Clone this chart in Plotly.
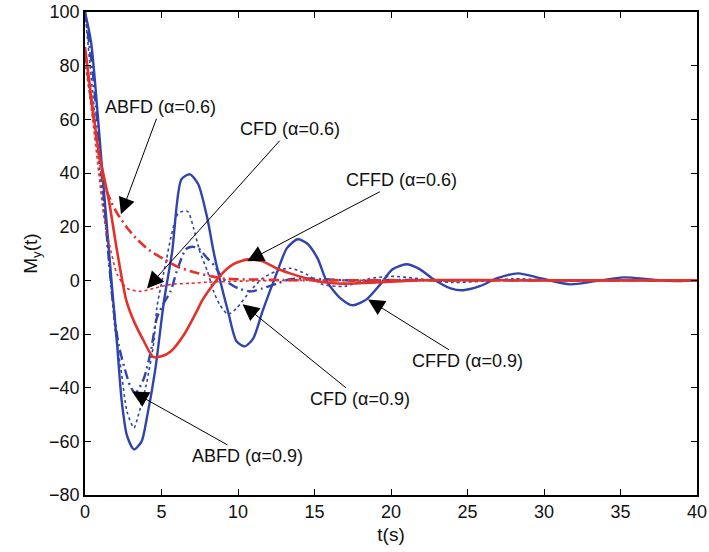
import plotly.graph_objects as go

# ---- data ----
# CFFD (alpha=0.9): blue solid
t_cffd09 = [0, 0.4, 0.8, 1.05, 1.57, 1.83, 2.1, 2.4, 2.75, 3.2, 3.7, 4.05, 4.6, 5.16, 5.7, 6.3, 6.86,
            7.4, 8.0, 8.4, 8.8, 9.35, 9.9, 10.45, 11.0, 11.6, 12.5, 13.2, 13.9, 14.5, 15.2, 15.8, 16.7,
            17.5, 18.4, 19.3, 20.1, 21.0, 21.9, 22.7, 23.9, 24.7, 25.8, 26.9, 28.3, 29.9, 31.7, 33.4,
            35.2, 37.0, 38.7, 40]
y_cffd09 = [100, 88.7, 64, 46, 10.8, -6.7, -24, -45, -58, -63, -60, -51, -33, -7.8, 10.8, 37.6, 39.5,
            35.8, 23, 10.8, 0.7, -11.6, -22.7, -24.6, -21.6, -11.6, 2.2, 12, 15.3, 13.8, 8.2, -0.4, -6.7,
            -9.3, -7.1, -1.5, 4.1, 6.0, 4.1, 0.7, -3, -3.7, -2.2, 0.7, 2.6, 0.6, -1.5, -0.3,
            1.1, 0.3, -0.3, 0]

# ABFD (alpha=0.9): blue dash-dot
t_abfd09 = [0, 0.5, 1.0, 1.25, 1.76, 2.2, 2.7, 3.0, 3.3, 3.85, 4.3, 4.7, 5.2, 5.6, 6.0, 6.6, 7.0, 7.4,
            8.0, 8.5, 9.0, 10.0, 10.9, 11.6, 12.6, 13.4, 14.4, 16, 18, 20, 25, 30, 35, 40]
y_abfd09 = [100, 78, 45, 29, -5, -24, -35, -40, -42, -36.5, -26.5, -14, -8, -4, 3.4, 11.6, 12.5, 12,
            8.2, 5.2, 0.7, -3, -4.1, -3, -1.1, 0.4, 0.7, 0.3, -0.2, 0.1, 0, 0, 0, 0]

# CFD (alpha=0.9): blue dotted
t_cfd09 = [0, 0.5, 0.9, 1.4, 1.7, 2.0, 2.35, 2.75, 3.2, 3.5, 4.0, 4.5, 4.7, 5.3, 5.6, 6.1, 6.7, 7.1,
           7.5, 8.0, 8.4, 8.8, 9.35, 9.9, 10.8, 11.6, 12.5, 13.4, 14.5, 15.5, 17, 18.5, 20, 22, 24, 26,
           28, 30, 32, 35, 38, 40]
y_cfd09 = [100, 70, 45, 17, -1.5, -20, -33, -49, -55, -50, -39, -23, -10, 7, 15.6, 25, 25.7, 19.4,
           10.8, 3.4, -4, -9, -12.7, -10.4, -4, 0.7, 3.4, 4.5, 2.2, -1.5, -2.2, 0.5, 1.5, 0.5, -0.8, -0.3,
           0.6, 0.2, -0.3, 0.2, 0, 0]

# CFFD (alpha=0.6): red solid
t_cffd06 = [0, 0.5, 0.9, 1.57, 2.1, 2.7, 3.2, 3.85, 4.45, 5.0, 5.6, 6.5, 7.3, 7.7, 8.8, 9.7, 10.65,
            11.6, 12.5, 13.4, 14.5, 15.5, 16.5, 17.5, 19, 21, 23, 26, 30, 35, 40]
y_cffd06 = [87, 64, 48, 29.4, 10.8, -7.5, -15.3, -22.7, -28.5, -28.3, -26.5, -20, -11.6, -7.1, 1.5, 6, 7.8,
            7.1, 4.5, 2.6, 0.7, -0.6, -1.2, -1.2, -0.8, -0.2, 0.1, 0.1, 0, 0, 0]

# ABFD (alpha=0.6): red dash-dot
t_abfd06 = [0, 0.5, 0.9, 1.25, 1.7, 2.1, 2.7, 3.4, 4.3, 5.2, 6.0, 6.9, 8.0, 9.0, 10.0, 11.2, 13, 15,
            20, 25, 30, 35, 40]
y_abfd06 = [85, 63, 47, 36, 29.4, 25, 20, 15.3, 10.8, 7.8, 5.2, 3.4, 1.8, 0.7, 0.4, 0.3, 0.1, 0,
            0, 0, 0, 0, 0]

# CFD (alpha=0.6): red dotted
t_cfd06 = [0, 0.5, 0.9, 1.25, 1.7, 2.1, 2.75, 3.65, 4.5, 5.6, 6.9, 8.0, 9.5, 11, 14, 20, 30, 40]
y_cfd06 = [82, 60, 40, 23, 10.8, 2.2, -3, -4.1, -3, -1.5, -1.1, -0.7, -0.4, -0.2, 0, 0, 0, 0]

# annotations: label, arrow tip (t, y), text centre (t, y)
ann_labels = ["ABFD (α=0.6)", "CFD (α=0.6)", "CFFD (α=0.6)",
              "CFFD (α=0.9)", "CFD (α=0.9)", "ABFD (α=0.9)"]
ann_tip_t = [2.35, 4.05, 10.6, 18.5, 10.3, 3.07]
ann_tip_y = [24.6, -3.0, 7.1, -7.1, -8.9, -41.4]
ann_txt_t = [4.95, 13.4, 20.7, 25.0, 18.0, 10.65]
ann_txt_y = [64.5, 56.3, 37.3, -30.2, -44.4, -65.6]

x_ticks = [0, 5, 10, 15, 20, 25, 30, 35, 40]
y_ticks = [-80, -60, -40, -20, 0, 20, 40, 60, 80, 100]

BLUE = "#2f44ad"
RED = "#e4312a"
FONT = "Liberation Sans, Arial"

fig = go.Figure()
series = [
    (t_cfd09, y_cfd09, BLUE, 1.6, "dot"),
    (t_abfd09, y_abfd09, BLUE, 2.4, "10px,4px,2px,4px"),
    (t_cffd09, y_cffd09, BLUE, 2.4, "solid"),
    (t_cfd06, y_cfd06, RED, 1.6, "dot"),
    (t_abfd06, y_abfd06, RED, 2.6, "10px,4px,2px,4px"),
    (t_cffd06, y_cffd06, RED, 2.6, "solid"),
]
for tx, ty, col, w, dash in series:
    fig.add_trace(go.Scatter(x=tx, y=ty, mode="lines",
                             line=dict(color=col, width=w, dash=dash, shape="spline", smoothing=0.7),
                             showlegend=False, hoverinfo="skip"))

for lab, tt, ty, xt, yt in zip(ann_labels, ann_tip_t, ann_tip_y, ann_txt_t, ann_txt_y):
    fig.add_annotation(x=tt, y=ty, ax=xt, ay=yt, axref="x", ayref="y", xref="x", yref="y",
                       text=lab, showarrow=True, arrowhead=2, arrowsize=3.3, arrowwidth=1,
                       arrowcolor="black", standoff=0, startstandoff=0,
                       font=dict(family=FONT, size=18, color="#111"))

axis_common = dict(showline=True, linecolor="black", linewidth=1.5, mirror="ticks",
                   ticks="inside", ticklen=6, tickwidth=1.2, tickcolor="black",
                   showgrid=False, zeroline=False, automargin=False,
                   tickfont=dict(family=FONT, size=18, color="#111"))

fig.update_xaxes(range=[0, 40], tickvals=x_ticks, ticktext=[str(v) for v in x_ticks],
                 title=dict(text="t(s)", font=dict(family=FONT, size=19, color="#111"), standoff=6),
                 **axis_common)
fig.update_yaxes(range=[-80, 100], tickvals=y_ticks, ticktext=[str(v).replace("-", "−") for v in y_ticks],
                 title=dict(text="M<sub>y</sub>(t)", font=dict(family=FONT, size=19, color="#111"), standoff=6),
                 **axis_common)

fig.update_layout(width=709, height=552, margin=dict(l=85, r=12, t=12, b=57),
                  plot_bgcolor="white", paper_bgcolor="white")

fig.write_html("out.html")
